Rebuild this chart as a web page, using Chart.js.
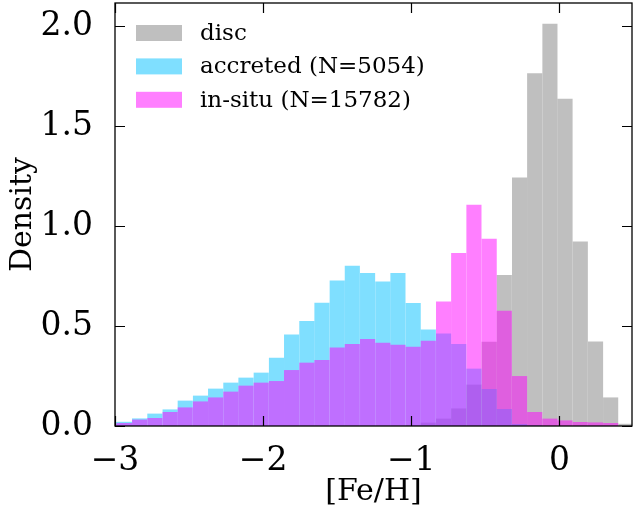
<!DOCTYPE html>
<html>
<head>
<meta charset="utf-8">
<script src="https://cdn.jsdelivr.net/npm/chart.js@4/dist/chart.umd.min.js"></script>
<style>
  html, body { margin: 0; padding: 0; background: #fff; }
  canvas { display: block; }
</style>
</head>
<body>
<canvas id="grafico" width="633" height="511"></canvas>
<script>
// ========== Dados ==========

// centros dos bins de [Fe/H] (35 bins de ~0.1026 entre -3.09 e 0.50)
const binCenters = [
  -3.039, -2.936, -2.834, -2.731, -2.628, -2.526, -2.423, -2.321, -2.218, -2.116,
  -2.013, -1.910, -1.808, -1.705, -1.603, -1.500, -1.398, -1.295, -1.192, -1.090,
  -0.987, -0.885, -0.782, -0.680, -0.577, -0.474, -0.372, -0.269, -0.167, -0.064,
   0.038,  0.141,  0.244,  0.346,  0.449
];

const disc = [
  0, 0, 0, 0, 0, 0, 0, 0, 0, 0,
  0, 0, 0, 0, 0, 0, 0, 0, 0, 0,
  0.005, 0.017, 0.037, 0.088, 0.207, 0.422, 0.756, 1.243, 1.765, 2.013,
  1.638, 0.923, 0.423, 0.143, 0.011
];

const accreted = [
  0.020, 0.021, 0.038, 0.062, 0.083, 0.127, 0.152, 0.187, 0.217, 0.242,
  0.267, 0.342, 0.458, 0.525, 0.617, 0.728, 0.802, 0.765, 0.723, 0.765,
  0.615, 0.483, 0.463, 0.410, 0.287, 0.185, 0.085, 0.010, 0.003, 0,
  0, 0, 0, 0, 0
];

const inSitu = [
  0.012, 0.015, 0.032, 0.040, 0.070, 0.093, 0.123, 0.143, 0.172, 0.202,
  0.217, 0.225, 0.280, 0.317, 0.330, 0.393, 0.410, 0.435, 0.417, 0.407,
  0.397, 0.427, 0.623, 0.865, 1.107, 0.937, 0.577, 0.250, 0.070, 0.037,
  0.028, 0.020, 0.018, 0.015, 0
];

const labels = ['disc', 'accreted (N=5054)', 'in-situ (N=15782)'];
const cores = ['rgba(128, 128, 128, 0.5)', 'rgba(0, 191, 255, 0.5)', 'rgba(255, 0, 255, 0.5)'];

const xTicks = [-3, -2, -1, 0];
const yTicks = [0, 0.5, 1.0, 1.5, 2.0];

const FONTE = "'DejaVu Serif', 'Liberation Serif', serif";

function pontos(valores) {
  return binCenters.map((c, i) => ({ x: c, y: valores[i] }));
}

// ticks para dentro nos quatro lados + moldura
const molduraPlugin = {
  id: 'moldura',
  afterDatasetsDraw(chart) {
    const { ctx, chartArea: a, scales } = chart;
    const len = 10;
    ctx.save();
    ctx.strokeStyle = '#000';
    ctx.lineWidth = 1.2;
    ctx.beginPath();
    xTicks.forEach(v => {
      const px = Math.round(scales.x.getPixelForValue(v)) + 0.5;
      ctx.moveTo(px, a.bottom); ctx.lineTo(px, a.bottom - len);
      ctx.moveTo(px, a.top); ctx.lineTo(px, a.top + len);
    });
    yTicks.forEach(v => {
      const py = Math.round(scales.y.getPixelForValue(v)) + 0.5;
      ctx.moveTo(a.left, py); ctx.lineTo(a.left + len, py);
      ctx.moveTo(a.right, py); ctx.lineTo(a.right - len, py);
    });
    ctx.stroke();
    ctx.lineWidth = 1.3;
    ctx.strokeRect(a.left, a.top, a.right - a.left, a.bottom - a.top);
    ctx.restore();
  }
};

// legenda dentro da área do gráfico, canto superior esquerdo
const legendaPlugin = {
  id: 'legenda',
  afterDraw(chart) {
    const ctx = chart.ctx;
    const x0 = 136, y0 = 33, passo = 33.4;
    ctx.save();
    ctx.font = '23px ' + FONTE;
    ctx.textBaseline = 'middle';
    labels.forEach((txt, i) => {
      const cy = y0 + i * passo;
      ctx.fillStyle = cores[i];
      ctx.fillRect(x0, cy - 8, 46, 16);
      ctx.fillStyle = '#000';
      ctx.fillText(txt, 200, cy + 1);
    });
    ctx.restore();
  }
};

new Chart(document.getElementById('grafico'), {
  type: 'bar',
  data: {
    datasets: [
      { label: labels[0], data: pontos(disc), backgroundColor: cores[0], order: 3 },
      { label: labels[1], data: pontos(accreted), backgroundColor: cores[1], order: 2 },
      { label: labels[2], data: pontos(inSitu), backgroundColor: cores[2], order: 1 }
    ]
  },
  options: {
    responsive: false,
    animation: false,
    devicePixelRatio: 1,
    layout: { padding: { top: 3, right: 1, left: 0, bottom: 0 } },
    datasets: {
      bar: {
        grouped: false,
        barPercentage: 1,
        categoryPercentage: 1,
        borderWidth: 0,
        inflateAmount: 0
      }
    },
    plugins: {
      legend: { display: false },
      tooltip: { enabled: false }
    },
    scales: {
      x: {
        type: 'linear',
        offset: false,
        min: -3,
        max: 0.49,
        grid: { display: false, offset: false },
        border: { display: false },
        afterBuildTicks: s => { s.ticks = xTicks.map(v => ({ value: v })); },
        afterFit: s => { s.height = 85; s.paddingLeft = 0; s.paddingRight = 0; },
        ticks: {
          padding: 8,
          color: '#000',
          font: { family: FONTE, size: 33 },
          maxRotation: 0,
          callback: v => (v < 0 ? '\u2212' + Math.abs(v) : String(v))
        },
        title: {
          display: true,
          text: '[Fe/H]',
          color: '#000',
          font: { family: FONTE, size: 30 },
          padding: { top: 0, bottom: 1 }
        }
      },
      y: {
        min: 0,
        max: 2.1165,
        grid: { display: false },
        border: { display: false },
        afterBuildTicks: s => { s.ticks = yTicks.map(v => ({ value: v })); },
        afterFit: s => { s.width = 115; s.paddingTop = 0; s.paddingBottom = 0; },
        ticks: {
          padding: 14,
          color: '#000',
          font: { family: FONTE, size: 33 },
          callback: v => v.toFixed(1)
        },
        title: {
          display: true,
          text: 'Density',
          color: '#000',
          font: { family: FONTE, size: 30 },
          padding: { top: 5, bottom: 0 }
        }
      }
    }
  },
  plugins: [molduraPlugin, legendaPlugin]
});
</script>
</body>
</html>
